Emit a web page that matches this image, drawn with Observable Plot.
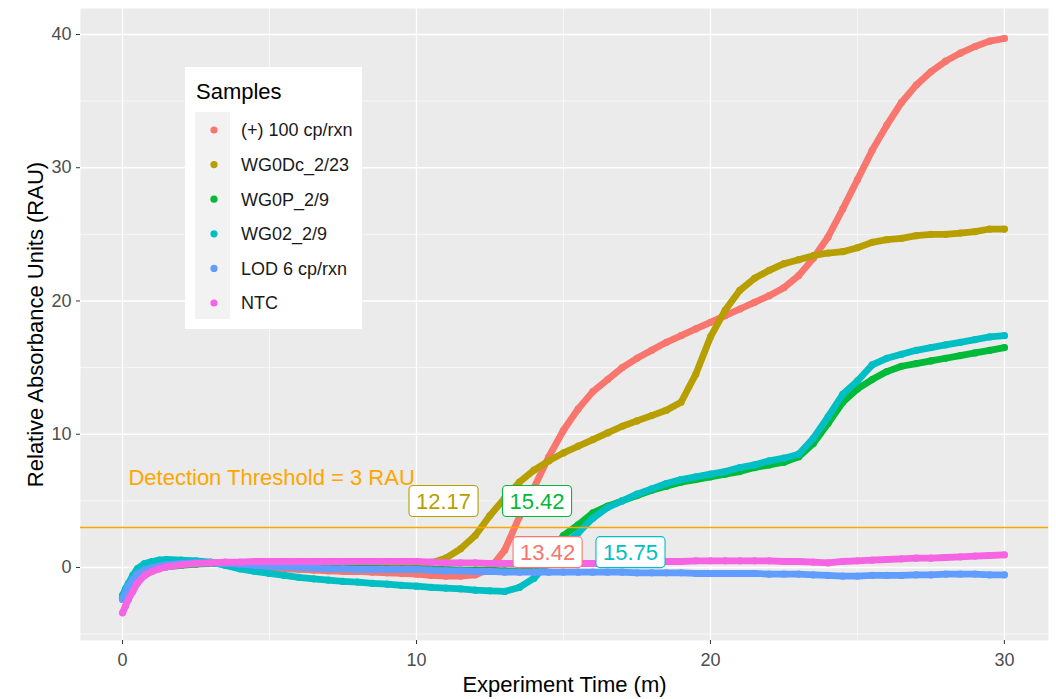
<!DOCTYPE html>
<html><head><meta charset="utf-8">
<script src="https://cdn.jsdelivr.net/npm/d3@7"></script>
<script src="https://cdn.jsdelivr.net/npm/@observablehq/plot@0.6"></script>
<style>
body{margin:0;background:#fff;font-family:"Liberation Sans",Arial,sans-serif;}
#chart{position:relative;width:1056px;height:699px;}
</style></head><body><div id="chart"></div>
<script>
// ---- data ----
const times = [0,0.1,0.2,0.35,0.5,0.75,1,1.25,1.5,
  2,2.5,3,3.5,4,4.5,5,5.5,6,6.5,7,7.5,8,8.5,9,9.5,10,10.5,11,11.5,12,
  12.5,13,13.5,14,14.5,15,15.5,16,16.5,17,17.5,18,18.5,19,19.5,20,20.5,21,21.5,22,22.5,23,23.5,24,24.5,25,25.5,26,26.5,27,27.5,28,28.5,29,29.5,30];

const sampleNames = ["(+) 100 cp/rxn","WG0Dc_2/23","WG0P_2/9","WG02_2/9","LOD 6 cp/rxn","NTC"];
const sampleColors = ["#F8766D","#B79F00","#00BA38","#00BFC4","#619CFF","#F564E3"];

const posCtrl = [-2.2,-1.7,-1.3,-0.8,-0.5,-0.2,0.0,0.1,0.2,
  0.3,0.35,0.35,0.3,0.25,0.1,0.0,-0.1,-0.15,-0.2,-0.25,-0.3,-0.3,-0.35,-0.4,-0.45,-0.5,-0.6,-0.65,-0.65,-0.55,
  -0.1,1.3,3.8,6.0,8.3,10.3,11.9,13.2,14.1,15.0,15.7,16.3,16.9,17.4,17.9,18.4,18.9,19.4,19.9,20.4,21.0,21.9,23.2,24.8,26.9,29.1,31.3,33.2,34.9,36.2,37.2,38.0,38.6,39.1,39.5,39.7];
const wg0dc = [-2.3,-1.8,-1.4,-0.9,-0.55,-0.25,-0.05,0.05,0.15,
  0.25,0.3,0.35,0.35,0.35,0.3,0.3,0.3,0.3,0.3,0.3,0.3,0.3,0.3,0.3,0.3,0.3,0.35,0.7,1.4,2.4,
  3.9,5.2,6.4,7.3,8.0,8.6,9.1,9.6,10.1,10.6,11.0,11.4,11.8,12.4,14.5,17.3,19.3,20.8,21.7,22.3,22.8,23.1,23.4,23.6,23.7,24.0,24.4,24.6,24.7,24.9,25.0,25.0,25.1,25.2,25.4,25.4];
const wg0p = [-2.3,-1.9,-1.5,-1.0,-0.7,-0.4,-0.2,-0.05,0.05,
  0.15,0.25,0.3,0.3,0.3,0.25,0.2,0.15,0.1,0.05,0.0,0.0,-0.05,-0.05,-0.1,-0.1,-0.1,-0.15,-0.15,-0.2,-0.2,
  -0.2,-0.25,-0.25,-0.1,1.0,2.4,3.2,4.1,4.6,5.0,5.4,5.8,6.1,6.4,6.6,6.8,7.0,7.2,7.5,7.7,7.9,8.3,9.3,10.8,12.4,13.4,14.1,14.7,15.1,15.3,15.5,15.7,15.9,16.1,16.3,16.5];
const wg02 = [-2.1,-1.6,-1.2,-0.6,-0.1,0.3,0.45,0.55,0.6,
  0.55,0.5,0.4,0.15,-0.1,-0.3,-0.45,-0.6,-0.75,-0.85,-0.95,-1.05,-1.1,-1.2,-1.25,-1.35,-1.4,-1.5,-1.55,-1.6,-1.7,
  -1.75,-1.8,-1.5,-0.8,0.4,1.7,2.6,3.7,4.5,5.0,5.5,5.9,6.3,6.6,6.8,7.0,7.2,7.5,7.7,8.0,8.2,8.5,9.7,11.3,13.0,14.0,15.2,15.7,16.0,16.3,16.5,16.7,16.9,17.1,17.3,17.4];
const lod = [-2.4,-1.9,-1.4,-0.9,-0.5,-0.2,0.0,0.1,0.2,
  0.3,0.35,0.35,0.3,0.25,0.15,0.1,0.05,0.0,-0.05,-0.1,-0.1,-0.15,-0.15,-0.15,-0.15,-0.15,-0.2,-0.25,-0.25,-0.3,
  -0.3,-0.35,-0.35,-0.35,-0.35,-0.35,-0.35,-0.35,-0.35,-0.35,-0.4,-0.4,-0.4,-0.4,-0.45,-0.45,-0.45,-0.45,-0.45,-0.5,-0.5,-0.5,-0.55,-0.6,-0.65,-0.65,-0.6,-0.6,-0.6,-0.55,-0.55,-0.5,-0.5,-0.5,-0.55,-0.55];
const ntc = [-3.4,-2.9,-2.4,-1.8,-1.2,-0.6,-0.3,-0.1,0.05,
  0.2,0.3,0.35,0.4,0.4,0.45,0.45,0.45,0.45,0.45,0.45,0.45,0.45,0.45,0.45,0.45,0.45,0.4,0.35,0.35,0.35,
  0.3,0.3,0.3,0.3,0.3,0.3,0.3,0.3,0.3,0.35,0.35,0.4,0.45,0.45,0.5,0.5,0.5,0.5,0.5,0.5,0.45,0.45,0.4,0.35,0.45,0.5,0.55,0.6,0.65,0.7,0.7,0.75,0.8,0.85,0.9,0.95];

const threshold = 3;
const thresholdText = "Detection Threshold = 3 RAU";
const labelTexts = ["12.17","15.42","13.42","15.75"];
const labelSamples = ["WG0Dc_2/23","WG0P_2/9","(+) 100 cp/rxn","WG02_2/9"];
const labelX = [10.92,14.1,14.46,17.28];
const labelY = [4.95,4.95,1.12,1.12];

const xMajor = [0,10,20,30];
const xMinor = [5,15,25];
const yMajor = [0,10,20,30,40];
const yMinor = [-5,5,15,25,35];

// ---- build ----
const seriesValues = [posCtrl, wg0dc, wg0p, wg02, lod, ntc];
const seriesRows = seriesValues.map((vals, si) => vals.map((v, i) => ({t: times[i], v, s: sampleNames[si]})));
const labels = labelTexts.map((text, i) => ({text, s: labelSamples[i], x: labelX[i], y: labelY[i]}));

const FONT = '"Liberation Sans", Arial, sans-serif';

const plot = Plot.plot({
  width: 1056, height: 699,
  marginTop: 8, marginRight: 8, marginBottom: 59, marginLeft: 80,
  style: {fontFamily: FONT, background: "#ffffff", overflow: "visible"},
  x: {domain: [-1.43, 31.5]},
  y: {domain: [-5.48, 41.95]},
  color: {domain: sampleNames, range: sampleColors},
  marks: [
    Plot.frame({fill: "#EBEBEB", stroke: null}),
    Plot.gridX(xMinor, {stroke: "#ffffff", strokeOpacity: 1, strokeWidth: 0.6}),
    Plot.gridY(yMinor, {stroke: "#ffffff", strokeOpacity: 1, strokeWidth: 0.6}),
    Plot.gridX(xMajor, {stroke: "#ffffff", strokeOpacity: 1, strokeWidth: 1.3}),
    Plot.gridY(yMajor, {stroke: "#ffffff", strokeOpacity: 1, strokeWidth: 1.3}),
    ...seriesRows.flatMap(rows => [
      Plot.line(rows, {x: "t", y: "v", stroke: "s", strokeWidth: 6.8, strokeLinecap: "round", strokeLinejoin: "round"}),
      Plot.dot(rows, {x: "t", y: "v", fill: "s", r: 3.6})
    ]),
    Plot.ruleY([threshold], {stroke: "#FFA500", strokeWidth: 1.6}),
    Plot.text([thresholdText], {x: 0.2, y: 6.75, text: d => d, textAnchor: "start", fill: "#FFA500", fontSize: 22}),
    Plot.text(labels, {x: "x", y: "y", text: "text", fill: "s", fontSize: 22}),
    Plot.axisX({ticks: xMajor, tickSize: 4, tickPadding: 9, fontSize: 18, stroke: "#333333", fill: "#4D4D4D", label: null}),
    Plot.axisY({ticks: yMajor, tickSize: 4, tickPadding: 5, fontSize: 18, stroke: "#333333", fill: "#4D4D4D", label: null}),
    Plot.text(["Experiment Time (m)"], {text: d => d, frameAnchor: "bottom", dy: 51, fontSize: 22, fill: "#000000"}),
    Plot.text(["Relative Absorbance Units (RAU)"], {text: d => d, frameAnchor: "left", textAnchor: "middle", rotate: -90, dx: -45, fontSize: 22, fill: "#000000"})
  ]
});

document.getElementById("chart").appendChild(plot);

// label boxes (geom_label style) – rect shares the text's transform
Array.from(plot.querySelectorAll("text")).forEach(node => {
  const idx = labelTexts.indexOf(node.textContent.trim());
  if (idx < 0) return;
  const bb = node.getBBox();
  const col = sampleColors[sampleNames.indexOf(labelSamples[idx])];
  const cy = bb.y + bb.height / 2;
  const rect = document.createElementNS("http://www.w3.org/2000/svg", "rect");
  const tr = node.getAttribute("transform");
  if (tr) rect.setAttribute("transform", tr);
  rect.setAttribute("x", bb.x - 7);
  rect.setAttribute("y", cy - 15.5);
  rect.setAttribute("width", bb.width + 14);
  rect.setAttribute("height", 31);
  rect.setAttribute("rx", 4);
  rect.setAttribute("fill", "#ffffff");
  rect.setAttribute("stroke", col);
  rect.setAttribute("stroke-width", 1.1);
  node.parentNode.insertBefore(rect, node);
});

// legend (inside panel, ggplot style)
const svg = d3.select(plot);
const lg = svg.append("g").attr("font-family", FONT).attr("text-anchor", "start");
lg.append("rect").attr("x", 185).attr("y", 67).attr("width", 177).attr("height", 262).attr("fill", "#ffffff");
lg.append("text").attr("x", 196).attr("y", 91).attr("dy", "0.35em").attr("font-size", 22).attr("fill", "#000").text("Samples");
lg.append("rect").attr("x", 195).attr("y", 112).attr("width", 35).attr("height", 207).attr("fill", "#F2F2F2");
sampleNames.forEach((name, i) => {
  const cy = 130 + i * 34.6;
  lg.append("circle").attr("cx", 214).attr("cy", cy).attr("r", 3.6).attr("fill", sampleColors[i]);
  lg.append("text").attr("x", 241).attr("y", cy).attr("dy", "0.35em").attr("font-size", 18).attr("fill", "#1A1A1A").text(name);
});
</script>
</body></html>
